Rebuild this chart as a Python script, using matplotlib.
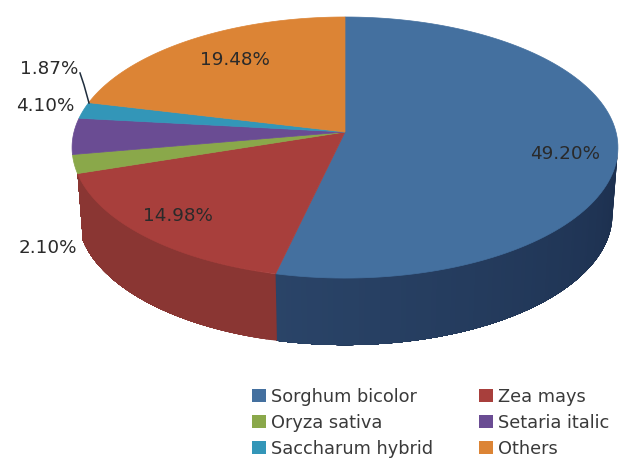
import numpy as np
import matplotlib
matplotlib.use("Agg")
import matplotlib.pyplot as plt
from matplotlib.patches import Polygon, Patch

categories = ["Sorghum bicolor", "Zea mays", "Oryza sativa", "Setaria italic", "Saccharum hybrid", "Others"]
values = [49.20, 14.98, 2.10, 4.10, 1.87, 19.48]
labels = ["49.20%", "14.98%", "2.10%", "4.10%", "1.87%", "19.48%"]
legend_labels = ["Sorghum bicolor", "Oryza sativa", "Saccharum hybrid", "Zea mays", "Setaria italic", "Others"]
legend_order = [0, 2, 4, 1, 3, 5]

top_colors = ["#44709f", "#a83f3c", "#8aa84a", "#6a4c93", "#3396b8", "#dc8435"]
wall_near = ["#2a4468", "#8a3633", "#6a8236", "#4e3870", "#25708a", "#a8622a"]
wall_far = ["#1c2f4e", "#8a3633", "#6a8236", "#4e3870", "#25708a", "#a8622a"]

CX, CY = 345.0, 132.0
RX, SY, K = 271.0, 128.7, 0.119
DEPTH, BOTTOM_SCALE = 67.0, 0.98


def project(theta_deg):
    t = np.radians(theta_deg)
    X, Y = np.sin(t), np.cos(t)
    w = 1 + K * Y
    return RX * X / w, -SY * Y / w


fig = plt.figure(figsize=(6.22, 4.59), dpi=100, facecolor="white")
ax = fig.add_axes([0, 0, 1, 1])
ax.set_xlim(0, 622)
ax.set_ylim(459, 0)
ax.axis("off")

edges = np.concatenate([[0], np.cumsum(values)]) / np.sum(values) * 360
WALL_START, WALL_END = 97.0, edges[2]

# side wall: overlapping quads, each painted over the previous, so no seams show
for i in range(len(values)):
    a0, a1 = max(edges[i], WALL_START), min(edges[i + 1], WALL_END)
    if a1 <= a0:
        continue
    steps = np.linspace(a0, a1, max(3, int(a1 - a0) + 2))
    c_right = np.array(matplotlib.colors.to_rgb(wall_far[i]))
    c_left = np.array(matplotlib.colors.to_rgb(wall_near[i]))
    for s0 in steps[:-1]:
        th = np.linspace(s0, a1, 40)
        xa, ya = project(th)
        top = np.c_[CX + xa, CY + ya]
        bot = np.c_[CX + xa * BOTTOM_SCALE, CY + ya + DEPTH][::-1]
        f = (s0 - a0) / max(a1 - a0, 1)
        col = c_right + (c_left - c_right) * f
        ax.add_patch(Polygon(np.r_[top, bot], closed=True, fc=col, ec="none"))

# top face
for i in range(len(values)):
    th = np.linspace(edges[i], edges[i + 1], 120)
    xa, ya = project(th)
    pts = np.r_[[[CX, CY]], np.c_[CX + xa, CY + ya]]
    ax.add_patch(Polygon(pts, closed=True, fc=top_colors[i], ec=top_colors[i], lw=0.5))

# labels
FS = 13.2
label_pos = [(565, 154), (178, 216), (48, 248), (45, 106), (49, 69), (235, 60)]
for lab, (x, y) in zip(labels, label_pos):
    ax.text(x, y, lab, ha="center", va="center", fontsize=FS, color="#2a2a2a")

# leader line for the small slice
ax.plot([80, 84, 89], [73, 85, 103], color="#1f2d3d", lw=1.1)

handles = [Patch(fc=top_colors[i], ec="none") for i in legend_order]
ax.legend(handles, legend_labels, ncol=2, frameon=False, fontsize=12.8,
          loc="upper left", bbox_to_anchor=(0.405, 0.155), borderpad=0, borderaxespad=0,
          handlelength=0.8, handleheight=0.8, handletextpad=0.3, columnspacing=2.55,
          labelspacing=0.45, labelcolor="#3a3a3a")

fig.savefig("out.png", dpi=100, facecolor="white")
